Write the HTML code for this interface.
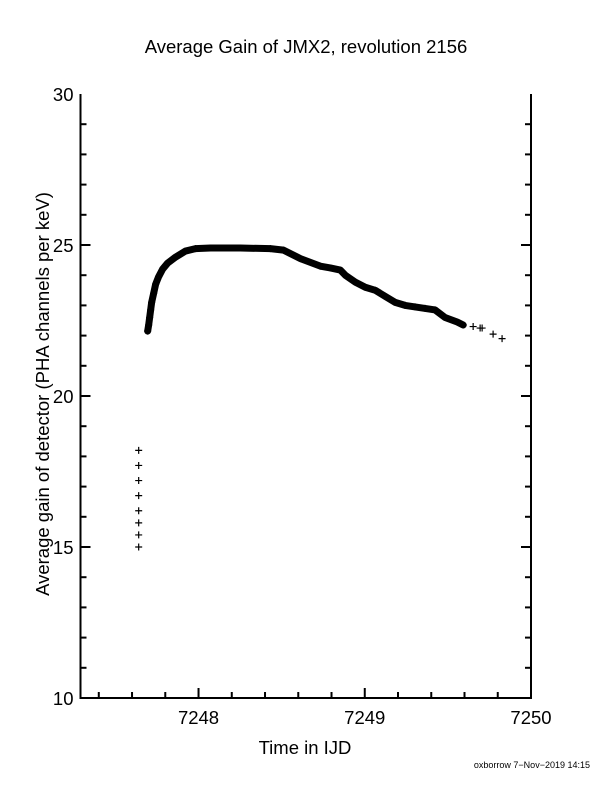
<!DOCTYPE html>
<html><head><meta charset="utf-8"><style>
body{margin:0;background:#fff;}
svg{display:block;font-family:"Liberation Sans",sans-serif;}
</style></head><body>
<svg id="chart" width="612" height="792" viewBox="0 0 612 792" xmlns="http://www.w3.org/2000/svg">
<rect width="612" height="792" fill="#fff"/>
<text x="306" y="53" font-size="18.5" text-anchor="middle">Average Gain of JMX2, revolution 2156</text>
<text x="305" y="754" font-size="18.5" text-anchor="middle">Time in IJD</text>
<text transform="translate(49,394) rotate(-90)" font-size="18.5" text-anchor="middle">Average gain of detector (PHA channels per keV)</text>
<text x="590" y="768" font-size="9" text-anchor="end">oxborrow  7−Nov−2019 14:15</text>
<g id="axes"></g>
<g id="marks"></g>
</svg>
<script>
const xTicks=[7248,7249,7250];
const yTicks=[10,15,20,25,30];
const sparseX=[7247.64,7247.64,7247.64,7247.64,7247.64,7247.64,7247.64,7247.64,7249.652,7249.694,7249.706,7249.772,7249.826];
const sparseY=[18.2,17.7,17.2,16.7,16.2,15.8,15.4,15.0,22.3,22.25,22.25,22.05,21.9];
const curveX=[7247.694,7247.700,7247.706,7247.712,7247.718,7247.730,7247.742,7247.760,7247.784,7247.814,7247.862,7247.922,7247.982,7248.072,7248.252,7248.432,7248.511,7248.613,7248.733,7248.793,7248.853,7248.883,7248.943,7249.003,7249.063,7249.123,7249.183,7249.243,7249.303,7249.363,7249.423,7249.483,7249.556,7249.592];
const curveY=[22.15,22.35,22.6,22.85,23.1,23.4,23.7,23.95,24.2,24.4,24.6,24.8,24.88,24.9,24.9,24.88,24.83,24.55,24.3,24.24,24.17,24.0,23.77,23.6,23.5,23.3,23.1,23.0,22.95,22.9,22.85,22.6,22.45,22.35];
const X0=80.5,X1=531,Y0=698,Y1=94,xmin=7247.29,xmax=7250,ymin=10,ymax=30;
const sx=v=>X0+(v-xmin)/(xmax-xmin)*(X1-X0);
const sy=v=>Y0-(v-ymin)/(ymax-ymin)*(Y0-Y1);
const NS="http://www.w3.org/2000/svg";
const axes=document.getElementById('axes'),marks=document.getElementById('marks');
function mk(t,a,p){const e=document.createElementNS(NS,t);for(const k in a)e.setAttribute(k,a[k]);p.appendChild(e);return e;}
const frame=mk('path',{d:`M${X0},${Y1}V${Y0}H${X1}V${Y1}`,fill:'none',stroke:'#000','stroke-width':2},axes);


for(let v=7247.4;v<7250.01;v+=0.2){const x=sx(v);const major=Math.abs(v-Math.round(v))<0.01;
const t=mk('line',{x1:x,x2:x,y1:Y0,y2:Y0-(major?10:6),stroke:'#000','stroke-width':2},axes);

}
xTicks.forEach(v=>{const t=mk('text',{x:sx(v),y:Y0+26,'font-size':18.5,'text-anchor':'middle'},axes);t.textContent=v;

});
for(let v=11;v<30;v++){const y=sy(v);const major=v%5===0;
const a=mk('line',{x1:X0,x2:X0+(major?10:6),y1:y,y2:y,stroke:'#000','stroke-width':2},axes);


const b=mk('line',{x1:X1,x2:X1-(major?10:6),y1:y,y2:y,stroke:'#000','stroke-width':2},axes);

}
yTicks.forEach(v=>{const t=mk('text',{x:X0-7,y:sy(v)+7,'font-size':18.5,'text-anchor':'end'},axes);t.textContent=v;

});
const pts=curveX.map((v,i)=>sx(v)+','+sy(curveY[i])).join(' ');
const line=mk('polyline',{points:pts,fill:'none',stroke:'#000','stroke-width':7,'stroke-linejoin':'round','stroke-linecap':'round'},marks);


function cross(x,y){const c=mk('path',{d:`M${x-3.5},${y}h7M${x},${y-3.5}v7`,stroke:'#000','stroke-width':1.2},marks);

}
curveX.forEach((v,i)=>cross(sx(v),sy(curveY[i])));
sparseX.forEach((v,i)=>cross(sx(v),sy(sparseY[i])));
</script>
</body></html>
